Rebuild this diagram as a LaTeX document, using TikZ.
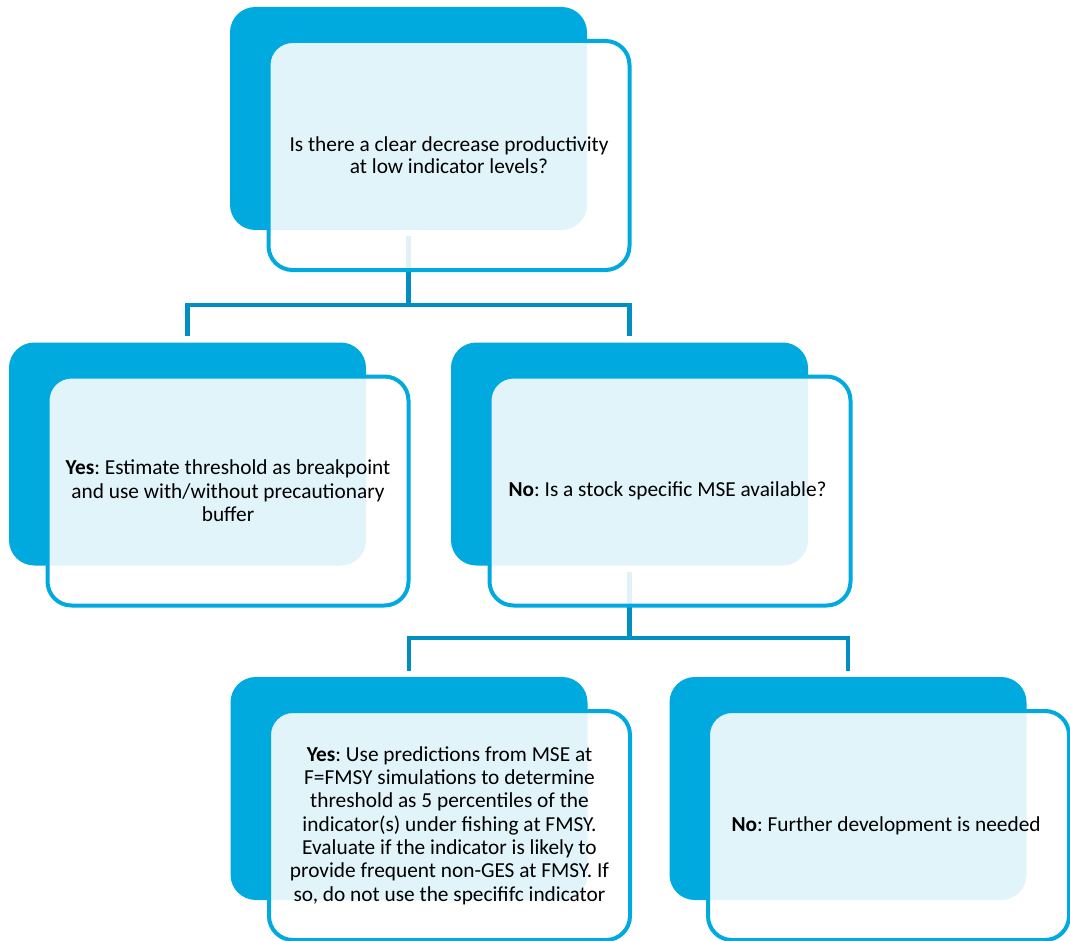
\documentclass[tikz,border=0pt]{standalone}
\usepackage{fontspec}
\setmainfont{Carlito}
\usetikzlibrary{positioning}
\definecolor{backblue}{RGB}{0,169,222}
\definecolor{linkblue}{RGB}{0,143,192}
\frenchspacing

\begin{document}
\begin{tikzpicture}[x=0.75pt, y=-0.75pt,
    back/.style={
      fill=backblue, rounded corners=19pt, inner sep=0pt,
      minimum width=267.75pt, minimum height=167.25pt
    },
    card/.style={
      draw=backblue, line width=3pt, fill=white, fill opacity=0.88,
      text opacity=1, rounded corners=18pt, inner sep=4pt,
      minimum width=270.75pt, minimum height=171.75pt, align=center,
      font=\fontsize{16}{17.5}\selectfont
    },
    link/.style={draw=linkblue, line width=3.2pt, shorten <=4.5pt, shorten >=4.5pt},
  ]
    \useasboundingbox (0,0) rectangle (1070,941);
    % back panels
    \node[back] (a) at (408.5,118.5) {};
    \node[back] (b) at (187.5,454) {};
    \node[back] (c) at (629.5,454) {};
    \node[back] (d) at (409,788.5) {};
    \node[back] (e) at (848,788.5) {};
    % connectors
    \draw[link] (a.south) -- ++(0,75) -| (b.north);
    \draw[link] (a.south) -- ++(0,75) -| (c.north);
    \draw[link] (c.south) -- ++(0,72) -| (d.north);
    \draw[link] (c.south) -- ++(0,72) -| (e.north);
    % text cards
    \node[card, font=\fontsize{16}{16.3}\selectfont] (a-txt) at ([shift={(40.5,37)}]a.center) {%
      Is there a clear decrease productivity\\ at low indicator levels?
    };
    \node[card] (b-txt) at ([shift={(40.5,37)}]b.center) {%
      \textbf{Yes}: Estimate threshold as breakpoint\\
      and use with/without precautionary\\ buffer
    };
    \node[card] (c-txt) at ([shift={(40.5,37)}]c.center) {%
      \textbf{No}: Is a stock specific MSE available?
    };
    \node[card] (d-txt) at ([shift={(40.5,37)}]d.center) {%
      \textbf{Yes}: Use predictions from MSE at\\
      F=FMSY simulations to determine\\
      threshold as 5 percentiles of the\\
      indicator(s) under fishing at FMSY.\\
      Evaluate if the indicator is likely to\\
      provide frequent non-GES at FMSY. If\\
      so, do not use the specififc indicator
    };
    \node[card] (e-txt) at ([shift={(40.5,37)}]e.center) {%
      \textbf{No}: Further development is needed
    };
  \end{tikzpicture}
\end{document}
